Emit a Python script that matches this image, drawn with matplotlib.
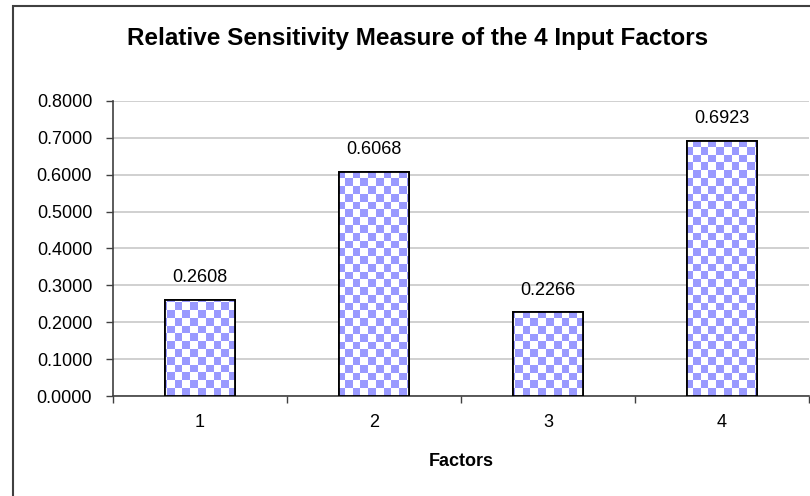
import numpy as np
import matplotlib
matplotlib.use('Agg')
import matplotlib.pyplot as plt
from matplotlib.patches import Rectangle

# sensitivity of each input factor
factors = ['1', '2', '3', '4']
sensitivity = [0.2608, 0.6068, 0.2266, 0.6923]
y_ticks = [0.0, 0.1, 0.2, 0.3, 0.4, 0.5, 0.6, 0.7, 0.8]

plt.rcParams['font.family'] = ['Liberation Sans', 'DejaVu Sans']

fig = plt.figure(figsize=(8.1, 4.96), dpi=100)
ax = fig.add_axes([0.1395, 0.2016, 0.8593, 0.5948])

x = np.arange(len(factors))
bars = ax.bar(x, sensitivity, width=0.40, facecolor='white',
              edgecolor='black', linewidth=1.3, zorder=3)

# checkerboard fill, clipped to each bar
ncols, nrows = 90, 38
checker = (np.add.outer(np.arange(nrows), np.arange(ncols)) % 2).astype(float)
cmap = matplotlib.colors.ListedColormap(['#9999ff', 'white'])
for bar in bars:
    im = ax.imshow(checker, cmap=cmap, extent=(0, 1, 0, 1), transform=ax.transAxes,
                   interpolation='nearest', aspect='auto', zorder=3.5)
    im.set_clip_path(bar)
    ov = Rectangle(bar.get_xy(), bar.get_width(), bar.get_height(),
                   facecolor='none', edgecolor='black', linewidth=1.3, zorder=4)
    ax.add_patch(ov)

for xi, v in zip(x, sensitivity):
    ax.annotate(f'{v:.4f}', (xi, v), xytext=(0, 10), textcoords='offset points',
                ha='center', va='bottom', fontsize=13)

ax.set_xlim(-0.5, len(factors) - 0.5)
ax.set_ylim(0, 0.8)
ax.set_yticks(y_ticks)
ax.set_yticklabels([f'{t:.4f}' for t in y_ticks])
ax.yaxis.grid(True, color='#c8c8c8', linewidth=1.2, zorder=0)
ax.set_axisbelow(True)

# category boundaries carry the tick marks, labels sit in between
ax.set_xticks(np.arange(len(factors) + 1) - 0.5)
ax.set_xticklabels([])
ax.set_xticks(x, minor=True)
ax.set_xticklabels(factors, minor=True)
ax.tick_params(axis='x', which='minor', length=0, pad=13, labelsize=13)
ax.tick_params(axis='x', which='major', length=5, width=1, color='#404040')
ax.tick_params(axis='y', length=5, width=1, color='#404040', labelsize=13, pad=10)

for s in ['top', 'right']:
    ax.spines[s].set_visible(False)
for s in ['left', 'bottom']:
    ax.spines[s].set_color('#404040')
    ax.spines[s].set_linewidth(1.2)

ax.set_xlabel('Factors', fontsize=13, fontweight='bold', labelpad=16)
fig.text(0.516, 0.922, 'Relative Sensitivity Measure of the 4 Input Factors',
         ha='center', va='center', fontsize=17.5, fontweight='bold')

# chart border
fig.patches.append(Rectangle((12.5 / 810, -0.1), 1.0, 1.1 - 6 / 496, transform=fig.transFigure,
                             facecolor='none', edgecolor='#404040', linewidth=1.5))

fig.savefig('out.png', dpi=100)
